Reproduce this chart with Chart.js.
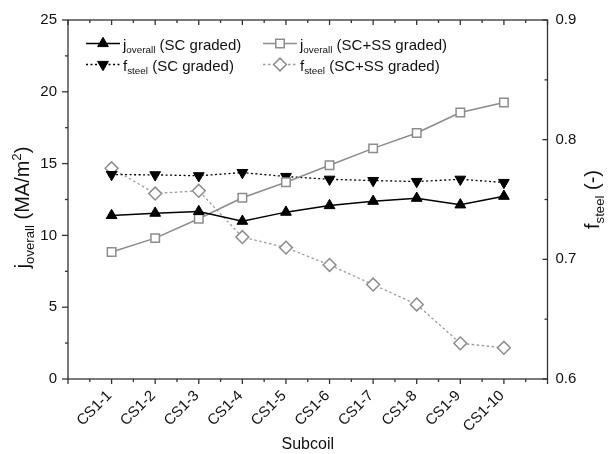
<!DOCTYPE html>
<html>
<head>
<meta charset="utf-8">
<script src="https://cdn.jsdelivr.net/npm/chart.js@4.4.1/dist/chart.umd.min.js"></script>
<style>
  html, body { margin: 0; padding: 0; background: #fff; }
</style>
</head>
<body>
<canvas id="chart" width="613" height="454"></canvas>
<script>
const subcoils = ["CS1-1", "CS1-2", "CS1-3", "CS1-4", "CS1-5", "CS1-6", "CS1-7", "CS1-8", "CS1-9", "CS1-10"];

// current density (MA/m2), left axis
const jScGraded   = [11.39, 11.55, 11.67, 10.99, 11.62, 12.08, 12.38, 12.59, 12.13, 12.73];
const jScSsGraded = [8.84, 9.81, 11.16, 12.62, 13.70, 14.88, 16.06, 17.13, 18.56, 19.26];

// steel fraction (-), right axis
const fSteelSc   = [0.7708, 0.7706, 0.7698, 0.7725, 0.7692, 0.7669, 0.7658, 0.7650, 0.7669, 0.7642];
const fSteelScSs = [0.7761, 0.7550, 0.7573, 0.7186, 0.7098, 0.6953, 0.6789, 0.6623, 0.6298, 0.6261];

const jTicks = [0, 5, 10, 15, 20, 25];
const fTicks = [0.6, 0.7, 0.8, 0.9];

const FONT = "'Liberation Sans', Arial, sans-serif";
const GREY = "#8c8c8c";
const GREY_DOT = "#9c9c9c";

const toPoints = (arr) => arr.map((v, i) => ({ x: i + 1, y: v }));

// legend entries, drawn by hand so the subscripts work
const legendItems = [
  { main: "j", sub: "overall", rest: " (SC graded)", ds: 0, col: 0, row: 0 },
  { main: "j", sub: "overall", rest: " (SC+SS graded)", ds: 1, col: 1, row: 0 },
  { main: "f", sub: "steel", rest: " (SC graded)", ds: 2, col: 0, row: 1 },
  { main: "f", sub: "steel", rest: " (SC+SS graded)", ds: 3, col: 1, row: 1 }
];

function line(ctx, x1, y1, x2, y2) {
  ctx.beginPath();
  ctx.moveTo(x1, y1);
  ctx.lineTo(x2, y2);
  ctx.stroke();
}

// draws main + subscript (+ optional superscript part) along the baseline, returns width
function richText(ctx, parts, x, y, size) {
  let cx = x;
  parts.forEach(p => {
    const s = p.small ? size * 0.66 : size;
    ctx.font = s + "px " + FONT;
    ctx.fillText(p.t, cx, y + (p.dy || 0) * size);
    cx += ctx.measureText(p.t).width;
  });
  return cx - x;
}

function measureRich(ctx, parts, size) {
  let w = 0;
  parts.forEach(p => {
    ctx.font = (p.small ? size * 0.66 : size) + "px " + FONT;
    w += ctx.measureText(p.t).width;
  });
  return w;
}

const framePlugin = {
  id: "frame",
  afterDraw(chart) {
    const ctx = chart.ctx;
    const a = chart.chartArea;
    const xs = chart.scales.x, ys = chart.scales.y, y1s = chart.scales.y1;
    ctx.save();
    ctx.strokeStyle = "#333";
    ctx.lineWidth = 1.3;
    ctx.strokeRect(a.left, a.top, a.right - a.left, a.bottom - a.top);

    // x ticks: out at bottom, in at top, minor at halves
    for (let v = 0; v <= subcoils.length + 1; v += 0.5) {
      const px = xs.getPixelForValue(v);
      const len = Number.isInteger(v) ? 5 : 3;
      line(ctx, px, a.bottom, px, a.bottom + len);
      line(ctx, px, a.top, px, a.top + len);
    }
    // left axis: out
    for (let v = jTicks[0]; v <= jTicks[jTicks.length - 1]; v += 2.5) {
      const py = ys.getPixelForValue(v);
      const len = (v % 5 === 0) ? 6 : 3;
      line(ctx, a.left - len, py, a.left, py);
    }
    // right axis: in
    for (let k = 0; k <= 6; k++) {
      const v = fTicks[0] + k * 0.05;
      const py = y1s.getPixelForValue(v);
      const len = (k % 2 === 0) ? 5 : 3;
      line(ctx, a.right - len, py, a.right, py);
    }

    // legend
    ctx.fillStyle = "#111";
    ctx.textBaseline = "alphabetic";
    const colX = [86, 263];
    const rowY = [43.5, 64.5];
    legendItems.forEach(it => {
      const ds = chart.data.datasets[it.ds];
      const x0 = colX[it.col], yc = rowY[it.row];
      ctx.save();
      ctx.strokeStyle = ds.borderColor;
      ctx.lineWidth = ds.borderWidth;
      ctx.setLineDash(ds.borderDash || []);
      line(ctx, x0, yc, x0 + 34, yc);
      ctx.setLineDash([]);
      ctx.fillStyle = ds.pointBackgroundColor;
      ctx.strokeStyle = ds.pointBorderColor;
      ctx.lineWidth = ds.pointBorderWidth;
      Chart.helpers.drawPoint(ctx, {
        pointStyle: ds.pointStyle, radius: ds.pointRadius,
        rotation: ds.pointRotation || 0, borderWidth: ds.pointBorderWidth
      }, x0 + 17, yc);
      ctx.restore();
      ctx.fillStyle = "#111";
      richText(ctx, [
        { t: it.main },
        { t: it.sub, small: true, dy: 0.25 },
        { t: it.rest }
      ], x0 + 37, yc + 6, 15);
    });

    // left axis title
    const leftParts = [
      { t: "j" }, { t: "overall", small: true, dy: 0.25 },
      { t: " (MA/m" }, { t: "2", small: true, dy: -0.4 }, { t: ")" }
    ];
    ctx.save();
    ctx.translate(29, (a.top + a.bottom) / 2 + 8);
    ctx.rotate(-Math.PI / 2);
    const lw = measureRich(ctx, leftParts, 20);
    richText(ctx, leftParts, -lw / 2, 0, 20);
    ctx.restore();

    // right axis title
    const rightParts = [
      { t: "f" }, { t: "steel", small: true, dy: 0.25 }, { t: " (-)" }
    ];
    ctx.save();
    ctx.translate(599, (a.top + a.bottom) / 2);
    ctx.rotate(-Math.PI / 2);
    const rw = measureRich(ctx, rightParts, 20);
    richText(ctx, rightParts, -rw / 2, 0, 20);
    ctx.restore();

    // x axis title
    ctx.font = "16px " + FONT;
    ctx.textAlign = "center";
    ctx.fillText("Subcoil", (a.left + a.right) / 2, 449);
    ctx.restore();
  }
};

new Chart(document.getElementById("chart"), {
  type: "line",
  data: {
    datasets: [
      {
        data: toPoints(jScGraded), yAxisID: "y",
        borderColor: "#000", borderWidth: 1.5,
        pointStyle: "triangle", pointRadius: 6.2, pointBorderWidth: 1,
        pointBackgroundColor: "#000", pointBorderColor: "#000"
      },
      {
        data: toPoints(jScSsGraded), yAxisID: "y",
        borderColor: GREY, borderWidth: 1.5,
        pointStyle: "rect", pointRadius: 6, pointBorderWidth: 1.5,
        pointBackgroundColor: "#fff", pointBorderColor: GREY
      },
      {
        data: toPoints(fSteelSc), yAxisID: "y1",
        borderColor: "#000", borderWidth: 1.3, borderDash: [2, 2.5],
        pointStyle: "triangle", pointRotation: 180, pointRadius: 6.2, pointBorderWidth: 1,
        pointBackgroundColor: "#000", pointBorderColor: "#000"
      },
      {
        data: toPoints(fSteelScSs), yAxisID: "y1",
        borderColor: GREY_DOT, borderWidth: 1.3, borderDash: [2.5, 2.5],
        pointStyle: "rectRot", pointRadius: 6.4, pointBorderWidth: 1.5,
        pointBackgroundColor: "#fff", pointBorderColor: GREY
      }
    ]
  },
  options: {
    responsive: false,
    animation: false,
    layout: { padding: { top: 19, left: 0, right: 0, bottom: 0 } },
    plugins: { legend: { display: false }, tooltip: { enabled: false } },
    scales: {
      x: {
        type: "linear", min: 0, max: subcoils.length + 1,
        afterBuildTicks: (s) => { s.ticks = subcoils.map((_, i) => ({ value: i + 1 })); },
        ticks: {
          autoSkip: false, maxRotation: 45, minRotation: 45,
          padding: 8, labelOffset: -2,
          font: { family: FONT, size: 15 }, color: "#111",
          callback: (v) => subcoils[v - 1]
        },
        grid: { display: false, drawTicks: false },
        border: { display: false },
        afterFit: (s) => { s.height = 75; }
      },
      y: {
        position: "left", min: jTicks[0], max: jTicks[jTicks.length - 1],
        afterBuildTicks: (s) => { s.ticks = jTicks.map(v => ({ value: v })); },
        ticks: { padding: 11, font: { family: FONT, size: 15 }, color: "#111" },
        grid: { display: false, drawTicks: false },
        border: { display: false },
        afterFit: (s) => { s.width = 68; }
      },
      y1: {
        position: "right", min: fTicks[0], max: fTicks[fTicks.length - 1],
        afterBuildTicks: (s) => { s.ticks = fTicks.map(v => ({ value: v })); },
        ticks: {
          padding: 8, font: { family: FONT, size: 15 }, color: "#111",
          callback: (v) => v.toFixed(1)
        },
        grid: { display: false, drawTicks: false },
        border: { display: false },
        afterFit: (s) => { s.width = 65.5; }
      }
    }
  },
  plugins: [framePlugin]
});
</script>
</body>
</html>
